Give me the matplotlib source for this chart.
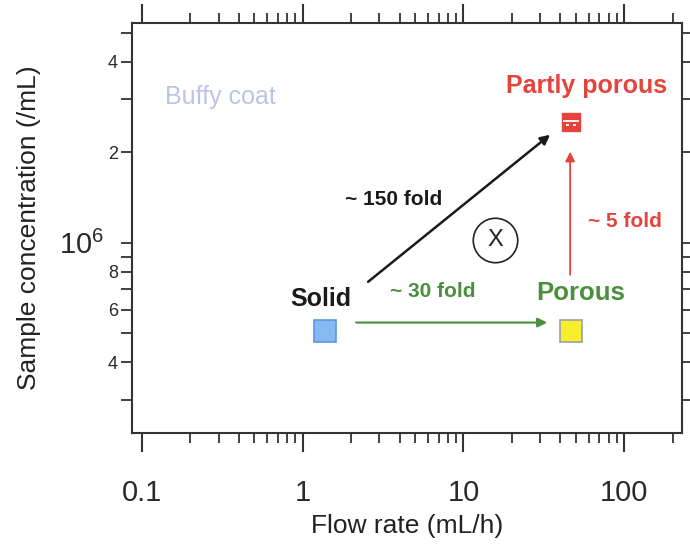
import matplotlib
matplotlib.use("Agg")
import matplotlib.pyplot as plt
from matplotlib.path import Path
import numpy as np

plt.rcParams['font.family'] = ['Liberation Sans', 'DejaVu Sans']
plt.rcParams['mathtext.fontset'] = 'custom'
plt.rcParams['mathtext.rm'] = 'Liberation Sans'

# Particle types: flow rate (mL/h) vs sample concentration (/mL)
samples = ["Solid", "Porous", "Partly porous"]
flow_rate = [1.37, 47.0, 47.0]
concentration = [5.1e5, 5.1e5, 2.52e6]

# Improvement arrows (start -> end) and their fold labels
arrow_labels = ["~ 150 fold", "~ 30 fold", "~ 5 fold"]
arrow_x0 = [2.55, 2.15, 46.1]
arrow_y0 = [7.42e5, 5.43e5, 7.83e5]
arrow_x1 = [34.6, 33.2, 46.1]
arrow_y1 = [2.29e6, 5.43e5, 2.01e6]

x_major = [0.1, 1, 10, 100]
x_major_labels = ["0.1", "1", "10", "100"]
x_minor = [0.2, 0.3, 0.4, 0.5, 0.6, 0.7, 0.8, 0.9,
           2, 3, 4, 5, 6, 7, 8, 9,
           20, 30, 40, 50, 60, 70, 80, 90, 200]
y_major = [4e5, 6e5, 8e5, 1e6, 2e6, 4e6]
y_major_labels = ["4", "6", "8", r"$\mathregular{10^6}$", "2", "4"]
y_minor = [3e5, 5e5, 7e5, 9e5, 3e6, 5e6]

BLACK = "#1a1a1a"
GREEN = "#4a8f3c"
RED = "#e5443c"
AXC = "#333333"

fig = plt.figure(figsize=(6.9, 5.46), dpi=100)
ax = fig.add_axes([132 / 690, 1 - 433 / 546, 550 / 690, 410 / 546])
ax.set_xscale("log")
ax.set_yscale("log")
ax.set_xlim(0.0866, 229)
ax.set_ylim(2.33e5, 5.39e6)

for s in ax.spines.values():
    s.set_linewidth(1.5)
    s.set_color(AXC)

ax.set_xticks(x_major)
ax.set_xticklabels(x_major_labels)
ax.set_xticks(x_minor, minor=True)
ax.set_xticklabels([], minor=True)
ax.set_yticks(y_major)
ax.set_yticklabels(y_major_labels)
ax.set_yticks(y_minor, minor=True)
ax.set_yticklabels([], minor=True)

ax.tick_params(axis="x", which="major", direction="out", length=14, width=1.5,
               color=AXC, labelsize=21, labelcolor="#2a2a2a", pad=19,
               top=True, bottom=True)
ax.tick_params(axis="x", which="minor", direction="out", length=7, width=1.3,
               color=AXC, top=True, bottom=True)
ax.tick_params(axis="y", which="major", direction="out", length=8, width=1.3,
               color=AXC, labelsize=13, labelcolor="#2a2a2a", pad=2,
               left=True, right=True)
ax.tick_params(axis="y", which="minor", direction="out", length=8, width=1.3,
               color=AXC, left=True, right=True)

yt = ax.yaxis.get_major_ticks()
yt[3].tick1line.set_markersize(14)
yt[3].label1.set_fontsize(21)
yt[3].set_pad(12)

ax.set_xlabel("Flow rate (mL/h)", fontsize=19, color="#222222", labelpad=5)
ax.set_ylabel("Sample concentration (/mL)", fontsize=19, color="#222222", labelpad=13)

# arrows
arrow_colors = [BLACK, GREEN, RED]
arrow_widths = [1.8, 1.5, 1.3]
for x0, y0, x1, y1, c, lw in zip(arrow_x0, arrow_y0, arrow_x1, arrow_y1,
                                 arrow_colors, arrow_widths):
    ax.annotate("", xy=(x1, y1), xytext=(x0, y0),
                arrowprops=dict(arrowstyle="-|>", color=c, lw=lw,
                                mutation_scale=14, shrinkA=0, shrinkB=0))

# markers
ax.plot(flow_rate[0], concentration[0], marker="s", ms=15.5, mfc="#84b9f2",
        mec="#5f95e0", mew=1.2, ls="none")
ax.plot(flow_rate[1], concentration[1], marker="s", ms=15.5, mfc="#f7ef2e",
        mec="#9aa0a8", mew=1.2, ls="none")
ax.plot(flow_rate[2], concentration[2], marker="s", ms=13, mfc=RED,
        mec=RED, mew=1, ls="none")
icon = Path([(-1, 0.15), (1, 0.15), (-0.6, -0.35), (-0.2, -0.35),
             (0.2, -0.35), (0.6, -0.35), (0, -1), (0, -1)],
            [Path.MOVETO, Path.LINETO, Path.MOVETO, Path.LINETO,
             Path.MOVETO, Path.LINETO, Path.MOVETO, Path.LINETO])
ax.plot(flow_rate[2], concentration[2], marker=icon, ms=12, mfc="none",
        mec="white", mew=1.3, ls="none")

# labels
bold = dict(fontweight="bold", ha="center", va="center")
ax.text(1.30, 6.51e5, samples[0], fontsize=18, color=BLACK, **bold)
ax.text(54.0, 6.82e5, samples[1], fontsize=18.5, color=GREEN, **bold)
ax.text(58.0, 3.33e6, samples[2], fontsize=18, color=RED, **bold)
ax.text(3.70, 1.39e6, arrow_labels[0], fontsize=15, color=BLACK, **bold)
ax.text(6.47, 6.87e5, arrow_labels[1], fontsize=15, color=GREEN, **bold)
ax.text(101.5, 1.175e6, arrow_labels[2], fontsize=15, color=RED, **bold)
ax.text(0.306, 3.06e6, "Buffy coat", fontsize=18, color="#bcc3ea",
        ha="center", va="center")

# circled X
ax.plot(15.7, 1.02e6, marker="o", ms=32, mfc="white", mec="#222222",
        mew=1.2, ls="none")
ax.text(15.7, 1.02e6, "X", fontsize=17, color="#222222", ha="center",
        va="center")

fig.savefig("out.png", dpi=100, facecolor="white")
